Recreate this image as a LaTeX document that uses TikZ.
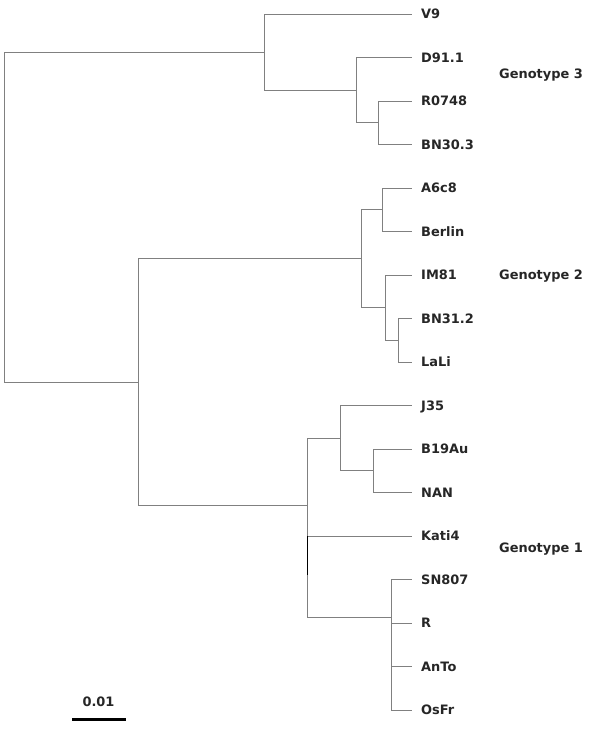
\documentclass[tikz,border=0pt]{standalone}
\usepackage{fontspec}
\setmainfont{DejaVu Sans}
\begin{document}
\begin{tikzpicture}[x=1bp, y=-1bp,
    branch/.style={draw=black!50, line width=0.8bp},
    label/.style={inner ysep=0pt, text height=9.5bp, text depth=0pt, text=black!85,
      font=\fontsize{13}{15}\selectfont\bfseries},
    leaf/.style={label, anchor=west, inner xsep=9bp},
    group/.style={label, anchor=west, inner xsep=0pt}]
  \useasboundingbox (0,0) rectangle (600,731);
  \node[leaf] (v9) at (412,14) {V9};
  \node[leaf] (d911) at (412,57.5) {D91.1};
  \node[leaf] (r0748) at (412,101) {R0748};
  \node[leaf] (bn303) at (412,144.5) {BN30.3};
  \node[leaf] (a6c8) at (412,188) {A6c8};
  \node[leaf] (berlin) at (412,231.5) {Berlin};
  \node[leaf] (im81) at (412,275) {IM81};
  \node[leaf] (bn312) at (412,318.5) {BN31.2};
  \node[leaf] (lali) at (412,362) {LaLi};
  \node[leaf] (j35) at (412,405.5) {J35};
  \node[leaf] (b19au) at (412,449) {B19Au};
  \node[leaf] (nan) at (412,492.5) {NAN};
  \node[leaf] (kati4) at (412,536) {Kati4};
  \node[leaf] (sn807) at (412,579.5) {SN807};
  \node[leaf] (r) at (412,623) {R};
  \node[leaf] (anto) at (412,666.5) {AnTo};
  \node[leaf] (osfr) at (412,710) {OsFr};
  \node[group] (geno3) at (499,74) {Genotype 3};
  \node[group] (geno2) at (499,275) {Genotype 2};
  \node[group] (geno1) at (499,548) {Genotype 1};
  \coordinate (root) at (4.6,217);
  \coordinate (g3) at (264.6,52);
  \coordinate (c3) at (356,90);
  \coordinate (c3b) at (378,122.75);
  \coordinate (g12) at (138,382);
  \coordinate (g2) at (361,258.7);
  \coordinate (c2a) at (382,209.75);
  \coordinate (c2b) at (385,307.6);
  \coordinate (c2c) at (398,340.25);
  \coordinate (g1) at (307.5,505);
  \coordinate (c1a) at (340,438);
  \coordinate (c1b) at (373,470.75);
  \coordinate (c1c) at (391.5,617);
  \coordinate (mark) at (307.5,575);
  \draw[branch] (root) |- (g3);
  \draw[branch] (root) |- (g12);
  \draw[branch] (g3) |- (v9);
  \draw[branch] (g3) |- (c3);
  \draw[branch] (c3) |- (d911);
  \draw[branch] (c3) |- (c3b);
  \draw[branch] (c3b) |- (r0748);
  \draw[branch] (c3b) |- (bn303);
  \draw[branch] (g12) |- (g2);
  \draw[branch] (g12) |- (g1);
  \draw[branch] (g2) |- (c2a);
  \draw[branch] (g2) |- (c2b);
  \draw[branch] (c2a) |- (a6c8);
  \draw[branch] (c2a) |- (berlin);
  \draw[branch] (c2b) |- (im81);
  \draw[branch] (c2b) |- (c2c);
  \draw[branch] (c2c) |- (bn312);
  \draw[branch] (c2c) |- (lali);
  \draw[branch] (g1) |- (c1a);
  \draw[branch] (g1) |- (kati4);
  \draw[branch] (g1) |- (c1c);
  \draw[branch] (c1a) |- (j35);
  \draw[branch] (c1a) |- (c1b);
  \draw[branch] (c1b) |- (b19au);
  \draw[branch] (c1b) |- (nan);
  \draw[branch] (c1c) |- (sn807);
  \draw[branch] (c1c) |- (r);
  \draw[branch] (c1c) |- (anto);
  \draw[branch] (c1c) |- (osfr);
  \draw[line width=1.2bp] (g1 |- kati4) -- (mark);
  \coordinate (bar west) at (72,719);
  \coordinate (bar east) at (126,719);
  \draw[line width=3bp] (bar west) -- (bar east);
  \node[label] (scale) at (98.5,702) {0.01};
\end{tikzpicture}
\end{document}
